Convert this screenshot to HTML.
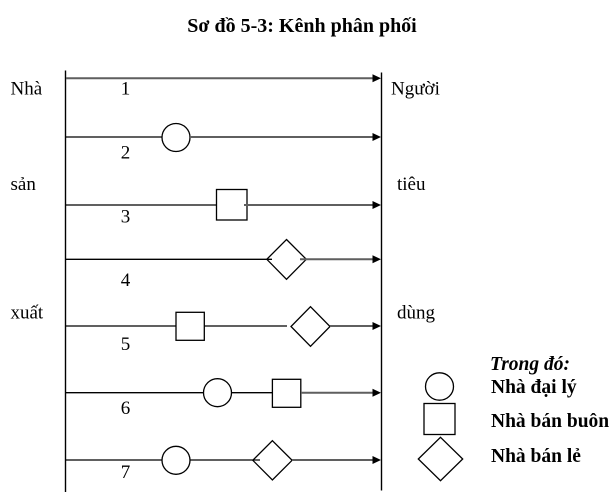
<!DOCTYPE html>
<html>
<head>
<meta charset="utf-8">
<style>
html,body{margin:0;padding:0;background:#fff;}
svg{display:block;}
text{font-family:"Liberation Serif","Noto Serif CJK SC",serif;fill:#000;}
</style>
</head>
<body>
<svg width="615" height="504" viewBox="0 0 615 504" xmlns="http://www.w3.org/2000/svg">
  <rect width="615" height="504" fill="#fff"/>
  <!-- Title -->
  <text x="302" y="32" font-size="20" font-weight="bold" text-anchor="middle">Sơ đồ 5-3: Kênh phân phối</text>

  <!-- vertical lines -->
  <line x1="65.5" y1="70.5" x2="65.5" y2="492" stroke="#000" stroke-width="1.4"/>
  <line x1="381.5" y1="72.5" x2="381.5" y2="490.5" stroke="#000" stroke-width="1.4"/>

  <g fill="none" stroke="#000" stroke-width="1.3">
    <!-- Row 2 -->
    <line x1="65" y1="137" x2="162" y2="137"/>
    <circle cx="176" cy="137.5" r="14"/>
    <!-- Row 3 -->
    <line x1="65" y1="205" x2="216.5" y2="205"/>
    <rect x="216.5" y="189.5" width="30.5" height="30.5"/>
    <!-- Row 4 -->
    <line x1="65" y1="259.3" x2="272" y2="259.3"/>
    <polygon points="286.5,239.5 306.3,259.3 286.5,279.3 266.8,259.3"/>
    <!-- Row 5 -->
    <line x1="65" y1="326" x2="176" y2="326"/>
    <rect x="176" y="312.3" width="28.3" height="28"/>
    <line x1="204.3" y1="326" x2="287" y2="326"/>
    <polygon points="310.5,306.7 330,326.5 310.5,346.3 291,326.5"/>
    <!-- Row 6 -->
    <line x1="65" y1="392.7" x2="203.5" y2="392.7"/>
    <circle cx="217.5" cy="392.7" r="14"/>
    <line x1="231.5" y1="392.7" x2="272.4" y2="392.7"/>
    <rect x="272.4" y="379.3" width="28.4" height="28"/>
    <!-- Row 7 -->
    <line x1="65" y1="460" x2="162" y2="460"/>
    <circle cx="176" cy="460.3" r="14"/>
    <line x1="190" y1="460" x2="260" y2="460"/>
    <polygon points="272.4,440.7 292.1,460.3 272.4,480 252.8,460.3"/>

    <!-- Legend shapes -->
    <ellipse cx="439.5" cy="386.5" rx="14" ry="13.7"/>
    <rect x="424" y="403.5" width="31" height="31"/>
    <polygon points="440.5,437.3 462.7,459 440.5,480.7 418.3,459"/>
  </g>

  <!-- arrow segments (gray) -->
  <g stroke="#5f5f5f" stroke-width="2" fill="none">
    <line x1="66" y1="78.3" x2="374" y2="78.3"/>
    <line x1="190" y1="137" x2="374" y2="137"/>
    <line x1="244" y1="205" x2="374" y2="205"/>
    <line x1="300" y1="259.3" x2="374" y2="259.3"/>
    <line x1="330" y1="326" x2="374" y2="326"/>
    <line x1="301" y1="392.7" x2="374" y2="392.7"/>
    <line x1="292" y1="460" x2="374" y2="460"/>
  </g>
  <!-- arrowheads -->
  <g fill="#000">
    <polygon points="372.5,74.3 381,78.3 372.5,82.3"/>
    <polygon points="372.5,133 381,137 372.5,141"/>
    <polygon points="372.5,201 381,205 372.5,209"/>
    <polygon points="372.5,255.3 381,259.3 372.5,263.3"/>
    <polygon points="372.5,322 381,326 372.5,330"/>
    <polygon points="372.5,388.7 381,392.7 372.5,396.7"/>
    <polygon points="372.5,456 381,460 372.5,464"/>
  </g>

  <!-- left labels -->
  <g font-size="19">
    <text x="10.5" y="94.5">Nhà</text>
    <text x="10.5" y="190">sản</text>
    <text x="10.5" y="318.3">xuất</text>
    <!-- right labels -->
    <text x="391" y="94.5">Người</text>
    <text x="397" y="190">tiêu</text>
    <text x="397" y="318.3">dùng</text>
    <!-- numbers -->
    <text x="125.5" y="94.3" text-anchor="middle">1</text>
    <text x="125.5" y="158.3" text-anchor="middle">2</text>
    <text x="125.5" y="222.5" text-anchor="middle">3</text>
    <text x="125.5" y="286" text-anchor="middle">4</text>
    <text x="125.5" y="350" text-anchor="middle">5</text>
    <text x="125.5" y="414" text-anchor="middle">6</text>
    <text x="125.5" y="478" text-anchor="middle">7</text>
  </g>

  <!-- legend text -->
  <text x="490" y="370" font-size="19.5" font-weight="bold" font-style="italic">Trong đó:</text>
  <text x="491" y="393" font-size="19.5" font-weight="bold">Nhà đại lý</text>
  <text x="491" y="427" font-size="19.5" font-weight="bold">Nhà bán buôn</text>
  <text x="491" y="462" font-size="19.5" font-weight="bold">Nhà bán lẻ</text>
</svg>
</body>
</html>
